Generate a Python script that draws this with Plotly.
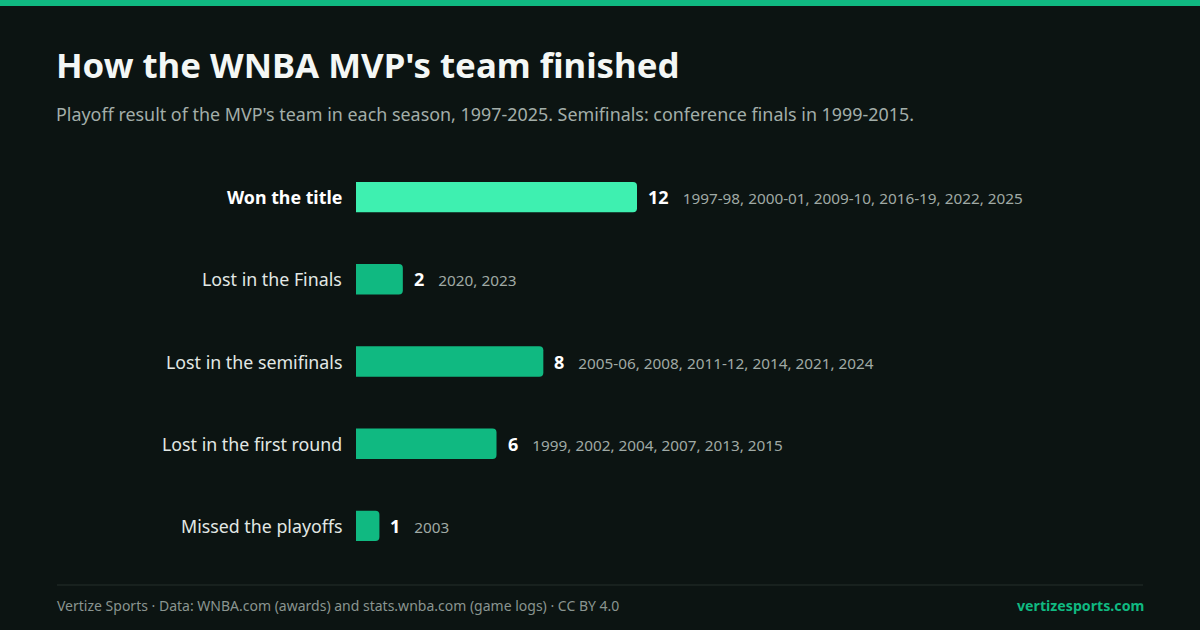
import plotly.graph_objects as go

# data
outcomes = ["Won the title", "Lost in the Finals", "Lost in the semifinals",
            "Lost in the first round", "Missed the playoffs"]
counts = [12, 2, 8, 6, 1]
seasons = [
    "1997-98, 2000-01, 2009-10, 2016-19, 2022, 2025",
    "2020, 2023",
    "2005-06, 2008, 2011-12, 2014, 2021, 2024",
    "1999, 2002, 2004, 2007, 2013, 2015",
    "2003",
]

W, H = 1200, 630
ML, MR, MT, MB = 356, 57, 156, 63
PW, PH = W - ML - MR, H - MT - MB

BG = "#0c1412"
GREEN = "#10b981"
MINT = "#3ef0b0"
FONT = "Noto Sans"


def px(x):
    return (x - ML) / PW


def py(y):
    return 1 - (y - MT) / PH


colors = [MINT] + [GREEN] * (len(outcomes) - 1)

fig = go.Figure(go.Bar(
    x=counts, y=outcomes, orientation="h",
    marker=dict(color=colors, cornerradius=4, line=dict(width=0)),
    hoverinfo="skip",
))

annotations = []
for i, (name, n, yrs) in enumerate(zip(outcomes, counts, seasons)):
    label = f"<b>{name}</b>" if i == 0 else name
    annotations.append(dict(
        x=0, xref="paper", y=name, yref="y", text=label, showarrow=False,
        xanchor="right", xshift=-12,
        font=dict(size=17.8, color="#ffffff" if i == 0 else "#e2e8e5", family=FONT),
    ))
    annotations.append(dict(
        x=n, xref="x", y=name, yref="y", showarrow=False, xanchor="left", xshift=9,
        text=f"<b>{n}</b>&nbsp;&nbsp;&nbsp;<span style='font-size:15.3px;color:#a0aaa5'>{yrs}</span>",
        font=dict(size=18, color="#ffffff", family=FONT),
    ))

# title / subtitle / footer
annotations += [
    dict(x=px(54), y=py(65), xref="paper", yref="paper", xanchor="left", yanchor="middle",
         text="<b>How the WNBA MVP's team finished</b>", showarrow=False,
         font=dict(size=34.8, color="#f4f7f5", family=FONT)),
    dict(x=px(54), y=py(114), xref="paper", yref="paper", xanchor="left", yanchor="middle",
         text="Playoff result of the MVP's team in each season, 1997-2025. Semifinals: conference finals in 1999-2015.",
         showarrow=False, font=dict(size=17.9, color="#a3aea9", family=FONT)),
    dict(x=px(54.5), y=py(605), xref="paper", yref="paper", xanchor="left", yanchor="middle",
         text="Vertize Sports · Data: WNBA.com (awards) and stats.wnba.com (game logs) · CC BY 4.0",
         showarrow=False, font=dict(size=14, color="#8a9590", family=FONT)),
    dict(x=px(1146), y=py(605), xref="paper", yref="paper", xanchor="right", yanchor="middle",
         text="<b>vertizesports.com</b>", showarrow=False,
         font=dict(size=14.2, color=GREEN, family=FONT)),
]

shapes = [
    dict(type="rect", xref="paper", yref="paper", x0=px(0), x1=px(W), y0=py(0), y1=py(6),
         fillcolor=GREEN, line=dict(width=0), layer="above"),
    dict(type="line", xref="paper", yref="paper", x0=px(57), x1=px(1143), y0=py(585), y1=py(585),
         line=dict(color="#1c2623", width=1.5)),
]

fig.update_layout(
    width=W, height=H,
    margin=dict(l=ML, r=MR, t=MT, b=MB),
    paper_bgcolor=BG, plot_bgcolor=BG,
    bargap=0.63,
    showlegend=False,
    xaxis=dict(range=[0, PW / (281 / 12)], visible=False, fixedrange=True),
    yaxis=dict(autorange="reversed", showticklabels=False, showgrid=False,
               zeroline=False, fixedrange=True),
    annotations=annotations,
    shapes=shapes,
    font=dict(family=FONT),
)

# page has a default 8px body margin; drop it so the figure sits at 0,0
fig.write_html("out.html", config={"displayModeBar": False},
               post_script="document.body.style.margin='0';document.body.style.background='%s';" % BG)
